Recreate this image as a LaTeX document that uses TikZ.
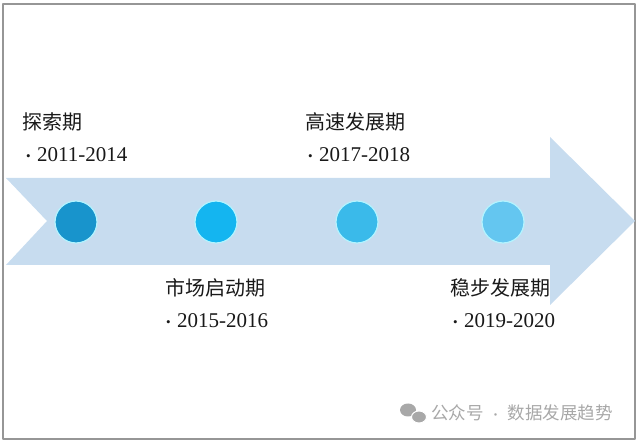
\documentclass[tikz,border=0pt]{standalone}
\usepackage{fontspec}
\setmainfont{Liberation Serif}
\newfontfamily\cjk{Noto Sans CJK SC}
\usepackage{xcolor}
\usetikzlibrary{arrows,calc}
\definecolor{arrowblue}{RGB}{199,220,239}
\definecolor{dotone}{RGB}{24,148,204}
\definecolor{dottwo}{RGB}{20,181,240}
\definecolor{dotthree}{RGB}{58,186,234}
\definecolor{dotfour}{RGB}{100,198,240}
\definecolor{dotrim}{RGB}{180,244,255}
\definecolor{framegray}{RGB}{150,150,150}
\definecolor{markgray}{RGB}{168,168,168}
\newcommand{\yearbullet}{\makebox[11pt][l]{\raisebox{1.5pt}{\fontsize{13}{13}\selectfont\textbullet}}}
\tikzset{
  phase/.style={anchor=west,inner sep=0pt,font=\cjk\fontsize{20}{24}\selectfont,text=black!90},
  years/.style={anchor=west,inner sep=0pt,font=\fontsize{21}{24}\selectfont,text=black!90},
  stage/.style={circle,minimum size=42pt,inner sep=0pt,draw=dotrim,line width=1.2pt}
}
\begin{document}
\begin{tikzpicture}[line cap=round,line join=round,x=1pt,y=-1pt]
                \useasboundingbox (0,0) rectangle (640,443);
                \draw [line width=1.5pt,color=framegray] (3,4) rectangle (635,439);
                \fill [arrowblue] (6,178)-- (550,178)-- (550,137)-- (635,221)-- (550,305)-- (550,265)-- (6,265)-- (47,221)-- cycle;
                \node[stage,fill=dotone] (s1) at (76,222) {};
                \node[stage,fill=dottwo] (s2) at (216,222) {};
                \node[stage,fill=dotthree] (s3) at (357,222) {};
                \node[stage,fill=dotfour] (s4) at (503,222) {};
                % labels above the arrow
                \node[phase] (p1) at (22,122) {探索期};
                \node[years] (y1) at (26,155) {\yearbullet2011-2014};
                \node[phase] (p3) at (305,122) {高速发展期};
                \node[years] (y3) at (308,155) {\yearbullet2017-2018};
                % labels below the arrow
                \node[phase] (p2) at (165,288) {市场启动期};
                \node[years] (y2) at (166,321) {\yearbullet2015-2016};
                \node[phase] (p4) at (450,288) {稳步发展期};
                \node[years] (y4) at (453,321) {\yearbullet2019-2020};
                % watermark
                \fill [markgray] (408,410) ellipse (8pt and 6.5pt);
                \draw [fill=markgray,draw=white,line width=1pt] (419,417) ellipse (7.5pt and 6pt);
                \node[anchor=west,inner sep=0pt,font=\cjk\fontsize{17.5}{20}\selectfont,text=markgray] (mark) at (431,413) {公众号\hspace{6pt}{\fontsize{12}{12}\selectfont·}\hspace{6pt}数据发展趋势};
\end{tikzpicture}
\end{document}
